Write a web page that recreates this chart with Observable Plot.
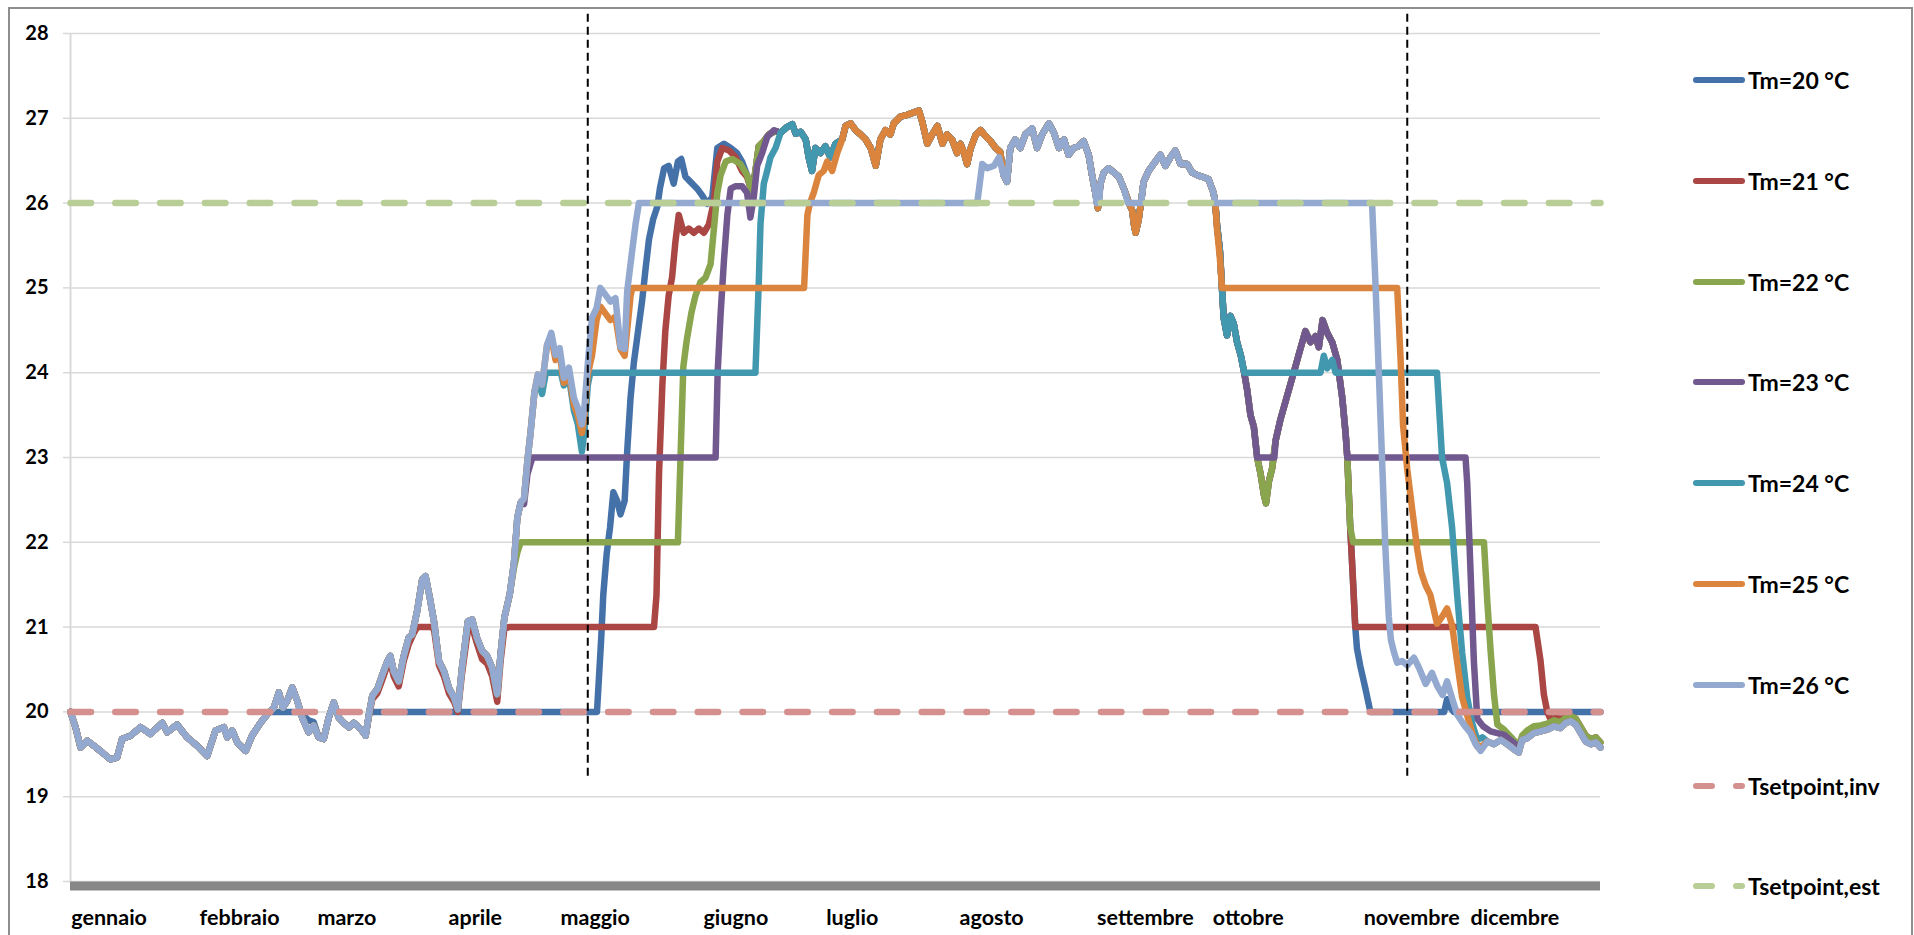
<!DOCTYPE html>
<html><head><meta charset="utf-8">
<script src="https://cdn.jsdelivr.net/npm/d3@7"></script>
<script src="https://cdn.jsdelivr.net/npm/@observablehq/plot@0.6"></script>
<style>
html,body{margin:0;padding:0;background:#fff;overflow:hidden;}
#wrap{position:relative;width:1914px;height:935px;overflow:hidden;font-family:Lato,"Open Sans",sans-serif;}
#frame{position:absolute;left:8px;top:7px;width:1905px;height:980px;border:2px solid #8e8e8e;box-sizing:border-box;}
#chart{position:absolute;left:0;top:0;}
#chart svg text{font-weight:700;}
.lg{position:absolute;left:1690px;height:30px;display:flex;align-items:center;font-weight:700;font-size:23px;color:#000;white-space:nowrap;font-family:Lato,"Open Sans",sans-serif;}
.lg svg{display:block;flex:none;}
</style></head>
<body>
<div id="wrap"><div id="frame"></div><div id="chart"></div><div id="legend"></div></div>
<script>
// ---------- axis data ----------
const yTicks = [18,19,20,21,22,23,24,25,26,27,28];
const monthNames = ["gennaio","febbraio","marzo","aprile","maggio","giugno","luglio","agosto","settembre","ottobre","novembre","dicembre"];
const monthDays = [0.2,30.8,58.9,90.2,116.9,151.0,180.3,212.1,244.9,272.5,308.5,334.0];
const switchDays = [123.4, 318.9];

// ---------- shared segments [day, °C] ----------
const Wa = [[0,20.0],[1.2,19.82],[2.4,19.58],[4.0,19.66],[5.6,19.6],[7.6,19.52],[9.5,19.44],[11.1,19.46],[12.3,19.68],[14.3,19.72],[16.7,19.82],[19.1,19.74],[21.9,19.87],[23.1,19.76],[25.4,19.85],[27.8,19.7],[30.2,19.6],[32.6,19.48],[34.6,19.78],[36.6,19.82],[37.4,19.7],[38.6,19.78],[39.8,19.64],[41.8,19.54],[43.3,19.72],[45.3,19.87]];
const Wb = [[46.9,19.97],[48.5,20.05],[49.7,20.23],[50.7,20.05],[51.7,20.13],[52.9,20.29],[54.1,20.13],[55.3,19.93],[56.8,19.76],[58.0,19.84]];
const Wc = [[59.2,19.7],[60.4,19.68],[61.6,19.93],[62.8,20.11],[64.0,19.93],[65.2,19.87],[66.4,19.82],[67.6,19.87],[69.2,19.8],[70.4,19.72]];
const B1 = [[71.2,19.97],[72.0,20.19],[73.2,20.27],[74.4,20.44],[75.6,20.6],[76.3,20.66],[77.1,20.48],[78.3,20.36],[79.5,20.66],[80.7,20.88],[81.5,20.91],[82.7,21.19],[83.9,21.56],[84.7,21.6],[85.7,21.35],[86.7,21.07],[87.9,20.6],[89.1,20.48],[90.3,20.28],[91.5,20.17],[92.4,20.03],[93.4,20.52],[94.8,21.07],[95.8,21.09],[97.0,20.87],[98.2,20.72],[99.4,20.66],[100.6,20.52],[101.8,20.21],[102.6,20.68],[103.5,21.11],[104.8,21.39]];
const B2 = [[105.8,21.76],[106.6,22.29],[107.4,22.47]];
const B3 = [[108.2,22.52],[109.0,22.96],[109.7,23.27],[110.7,23.78]];
const B4 = [[111.5,23.98],[112.5,23.86],[113.7,24.33]];
const B5 = [[114.7,24.47],[115.7,24.21],[116.7,24.29],[117.7,23.94],[118.9,24.06],[120.1,23.7],[121.0,23.59],[122.0,23.39],[122.6,23.59],[123.4,24.1],[124.4,24.65],[125.5,24.76],[126.4,25.0],[127.6,24.92],[128.8,24.84],[130.0,24.88],[131.2,24.3],[132.2,24.28],[132.8,24.96],[134.0,25.44],[134.8,25.75],[135.6,26.0]];
const Sa = [[169.4,26.83],[171.0,26.9],[172.2,26.93],[173.0,26.82],[174.2,26.84],[175.4,26.75],[176.1,26.54],[176.9,26.38],[177.7,26.65],[178.9,26.59],[180.1,26.67],[181.3,26.54],[182.5,26.7]];
const Sb = [[184.1,26.75],[184.9,26.91],[186.1,26.94],[187.3,26.86],[188.5,26.81],[189.7,26.75],[190.9,26.65],[192.1,26.44],[193.2,26.75],[194.4,26.86],[195.6,26.81],[196.4,26.94],[198.0,27.02],[199.6,27.04],[201.2,27.07],[202.4,27.09],[203.2,26.96],[204.4,26.7],[205.6,26.81],[206.8,26.91],[208.0,26.7],[209.1,26.81],[210.3,26.75],[211.5,26.59],[212.3,26.7],[213.1,26.6],[213.9,26.46],[214.7,26.64],[215.9,26.8],[217.1,26.86],[218.3,26.79],[219.5,26.73],[220.7,26.65],[221.8,26.6],[222.6,26.33]];
const Sc1 = [[223.4,26.25],[224.2,26.65],[225.4,26.75],[226.6,26.65],[227.8,26.81],[229.4,26.88],[230.6,26.65],[231.8,26.81],[233.4,26.94],[234.6,26.83],[235.8,26.65],[237.0,26.75],[238.1,26.57],[239.3,26.65],[240.5,26.67],[241.7,26.73],[242.9,26.57],[243.7,26.33],[244.5,26.12]];
const dip1 = [[245.1,25.94]];
const Sc2 = [[245.7,26.23],[246.5,26.36],[247.7,26.41],[248.9,26.36],[250.1,26.31],[251.3,26.17]];
const dip2 = [[252.5,26.0],[253.3,25.91],[253.7,25.75],[254.1,25.65],[254.8,25.8],[255.5,26.05]];
const Sc3 = [[256.0,26.25],[257.2,26.38],[258.8,26.49],[260.0,26.57],[261.2,26.44],[262.4,26.54],[263.6,26.62],[264.8,26.46],[266.4,26.46],[267.6,26.36],[268.8,26.33],[270.0,26.31],[271.5,26.28],[272.7,26.12],[273.1,26.0]];
const autumnA = [[273.5,25.75],[274.2,25.44],[274.7,25.0],[275.1,24.65],[275.9,24.44],[276.7,24.67],[277.5,24.58],[278.3,24.36],[279.2,24.2],[280.0,24.0]];
const autumnB = [[280.7,23.8],[281.5,23.5],[282.3,23.36],[283.1,23.0]];
const dipGreen = [[283.9,22.81],[284.7,22.56],[285.2,22.46],[285.9,22.72],[286.7,22.88]];
const autumnC = [[287.5,23.2],[288.6,23.44],[289.8,23.65],[291.0,23.86],[292.2,24.07],[293.4,24.28],[294.6,24.49],[295.8,24.36],[297.0,24.43],[297.8,24.3],[298.7,24.62],[299.8,24.47],[301.0,24.36],[302.2,24.15],[303.4,23.7],[304.2,23.28],[304.6,23.0]];
const endCommonA = [[338.0,19.65],[339.6,19.62],[341.2,19.67],[342.7,19.62],[344.3,19.56],[345.5,19.52]];
const endCommonB = [[346.3,19.67],[347.5,19.69],[349.1,19.75],[350.7,19.77],[352.3,19.79],[353.9,19.83],[355.5,19.81],[356.7,19.87],[357.9,19.89],[359.1,19.85],[360.3,19.75],[361.5,19.65],[362.7,19.62],[363.9,19.64],[365.0,19.58]];
const endUpper1 = [[346.3,19.72],[347.5,19.78],[349.1,19.83],[350.7,19.84],[352.3,19.86],[353.9,19.9],[355.5,19.88],[356.7,19.93],[357.9,19.95]];
const endUpper2 = [[359.1,19.92],[360.3,19.82],[361.5,19.72],[362.7,19.68],[363.9,19.7],[365.0,19.64]];

// ---------- series-specific segments ----------
const t20Winter = [[46.9,19.97],[47.5,20.0],[54.5,20.0],[55.3,19.97],[56.8,19.9],[58.0,19.88]];
const t20Spring = [[71.2,19.97],[71.6,20.0],[125.6,20.0]];
const t20Rise = [[126.6,20.86],[127.1,21.38],[127.9,21.86],[128.7,22.17],[129.5,22.59],[130.4,22.49],[131.2,22.33],[132.2,22.49],[132.8,23.07],[133.6,23.7],[134.4,24.12],[135.4,24.49],[136.4,24.86],[137.2,25.23],[138.0,25.57],[139.0,25.81],[140.0,25.96],[140.6,26.17],[141.6,26.41],[142.7,26.44],[143.9,26.23],[144.9,26.49],[145.7,26.52],[146.7,26.31],[147.9,26.25],[149.5,26.17],[150.7,26.09],[151.9,25.99],[153.1,26.07],[154.3,26.65],[155.9,26.7],[157.5,26.65],[159.0,26.59],[160.2,26.49],[161.4,26.33],[162.6,26.12],[163.4,26.38],[164.2,26.67],[165.4,26.73],[166.6,26.81],[168.2,26.85]];
const t20Autumn = [[305.3,22.17],[305.8,21.7],[306.2,21.3],[306.5,21.0],[306.9,20.75],[307.7,20.54],[308.9,20.28],[310.1,20.0],[327.7,20.0],[328.4,20.15],[329.2,20.05],[330.0,20.0],[365.0,20.0]];

const t21Spring = [[71.2,19.95],[72.0,20.15],[73.2,20.22],[74.4,20.38],[75.6,20.55],[76.3,20.58],[77.1,20.42],[78.3,20.3],[79.5,20.6],[80.7,20.8],[81.9,20.93],[82.7,21.0],[85.9,21.0],[86.7,20.98],[87.9,20.55],[89.1,20.42],[90.3,20.22],[91.5,20.12],[92.4,20.0],[93.4,20.45],[94.8,20.96],[95.8,21.0],[97.0,20.8],[98.2,20.62],[99.4,20.57],[100.6,20.42],[101.8,20.12],[102.6,20.6],[103.5,20.98],[104.6,21.0],[139.2,21.0]];
const t21Rise = [[139.8,21.38],[140.4,22.81],[141.2,23.86],[141.9,24.49],[142.7,24.91],[143.5,25.12],[144.3,25.54],[145.1,25.86],[146.3,25.65],[147.5,25.7],[148.7,25.65],[149.9,25.7],[151.1,25.65],[152.3,25.75],[153.5,26.02],[154.3,26.49],[155.5,26.65],[157.1,26.62],[158.7,26.54],[160.2,26.38],[161.4,26.31],[162.6,26.12],[163.4,26.38],[164.2,26.67],[165.4,26.73],[166.6,26.81],[168.2,26.85]];
const t21Autumn = [[305.3,22.17],[305.8,21.7],[306.2,21.3],[306.5,21.0],[349.5,21.0],[350.7,20.6],[351.5,20.2],[352.3,20.0],[353.1,19.91],[354.3,19.93],[355.5,19.92],[356.7,19.93],[357.9,19.95]];

const t22Spring = [[105.8,21.7],[106.6,21.88],[107.4,22.0],[144.9,22.0]];
const t22Rise = [[145.5,22.96],[146.2,24.07],[147.0,24.38],[148.1,24.7],[149.1,24.91],[150.3,25.07],[151.5,25.12],[152.7,25.28],[153.5,25.7],[154.3,26.12],[155.1,26.33],[156.3,26.49],[157.9,26.52],[159.8,26.46],[161.4,26.33],[162.6,26.12],[163.4,26.38],[164.2,26.67],[165.4,26.73],[166.6,26.81],[168.2,26.85]];
const t22Autumn = [[305.3,22.17],[306.0,22.0],[337.2,22.0],[338.0,21.3],[338.8,20.71],[339.6,20.2],[340.4,19.85],[342.0,19.79],[343.9,19.69],[345.5,19.6]];

const t23Spring = [[108.2,22.45],[109.0,22.8],[109.7,22.92],[110.2,23.0],[153.9,23.0]];
const t23Rise = [[154.4,24.02],[155.1,24.7],[155.9,25.33],[156.7,25.86],[157.5,26.17],[158.7,26.2],[160.2,26.2],[161.4,26.12],[162.2,25.83],[163.0,26.07],[163.8,26.44],[165.0,26.59],[166.2,26.78],[167.8,26.86]];
const t23Hold = [[287.2,23.0]];
const t23Autumn = [[332.8,23.0],[333.2,22.7],[334.0,21.65],[334.8,20.59],[335.6,19.92],[337.0,19.83],[338.8,19.77],[340.4,19.75],[342.0,19.73],[343.9,19.65],[345.5,19.58]];

const t24Spring = [[111.5,23.9],[112.5,23.75],[113.4,24.0],[117.0,24.0],[117.7,23.85],[118.9,23.95],[120.1,23.55],[121.0,23.4],[122.0,23.07],[122.6,23.3],[123.4,23.85],[124.0,24.0],[163.4,24.0]];
const t24Rise = [[164.2,25.07],[164.6,25.75],[165.4,26.23],[166.2,26.38],[167.0,26.54],[168.2,26.65]];
const t24Autumn = [[298.2,24.0],[299.0,24.2],[299.8,24.05],[301.0,24.15],[301.8,24.0],[326.0,24.0],[327.2,23.0],[328.4,22.7],[329.6,22.17],[330.8,21.38],[332.0,20.7],[333.2,20.17],[334.4,19.86],[335.6,19.67],[336.8,19.7]];

const t25Spring = [[114.7,24.42],[115.7,24.15],[116.7,24.22],[117.7,23.88],[118.9,24.0],[120.1,23.62],[121.0,23.5],[122.0,23.29],[122.6,23.48],[123.4,23.98],[124.4,24.2],[125.5,24.62],[126.4,24.78],[127.6,24.7],[128.8,24.62],[130.0,24.66],[131.2,24.28],[132.2,24.2],[132.8,24.5],[133.6,24.9],[134.0,25.0],[175.0,25.0]];
const t25Rise = [[175.8,25.86],[176.4,26.0],[177.3,26.12],[178.5,26.33],[179.7,26.38],[180.5,26.49],[181.7,26.38],[182.9,26.59]];
const t25Autumn = [[273.5,25.7],[274.2,25.35],[274.7,25.0],[316.5,25.0],[317.3,24.17],[317.9,23.38],[318.9,22.86],[320.1,22.38],[321.3,21.91],[322.2,21.65],[323.3,21.49],[324.4,21.38],[326.0,21.04],[327.2,21.12],[328.4,21.22],[329.6,21.02],[330.8,20.59],[332.0,20.17],[333.2,19.96],[334.4,19.75],[335.6,19.59],[336.8,19.6]];

const t26Rise = [[216.3,26.0],[216.7,26.15],[217.5,26.46],[218.7,26.41],[220.3,26.44],[221.5,26.54],[222.6,26.33]];
const t26Dip1 = [[244.8,26.0],[245.4,26.0]];
const t26Dip2 = [[252.3,26.0],[255.4,26.0]];
const t26Drop = [[310.5,26.0],[311.3,25.07],[312.1,24.02],[312.9,22.96],[313.7,21.91],[314.5,21.12],[315.0,20.85],[315.7,20.71],[316.5,20.58],[317.7,20.6],[318.9,20.55],[320.5,20.64],[321.7,20.52],[323.3,20.33],[324.8,20.46],[326.1,20.3],[327.3,20.2],[328.4,20.36],[329.6,20.16],[330.8,19.97],[332.4,19.85],[334.0,19.75],[335.2,19.62],[336.4,19.54]];

const setpointInv = [[0,20],[365,20]];
const setpointEst = [[0,26],[365,26]];

// ---------- series assembly ----------
const summerCommon = [...Sa, ...Sb, ...Sc1, ...dip1, ...Sc2, ...dip2, ...Sc3];
const series = [
  {name:"Tm=20 °C", color:"#4571a9", data:[...Wa,...t20Winter,...Wc,...t20Spring,...t20Rise,...summerCommon,...autumnA,...autumnB,...dipGreen,...autumnC,...t20Autumn]},
  {name:"Tm=21 °C", color:"#aa4643", data:[...Wa,...Wb,...Wc,...t21Spring,...t21Rise,...summerCommon,...autumnA,...autumnB,...dipGreen,...autumnC,...t21Autumn,...endUpper2]},
  {name:"Tm=22 °C", color:"#89a54e", data:[...Wa,...Wb,...Wc,...B1,...t22Spring,...t22Rise,...summerCommon,...autumnA,...autumnB,...dipGreen,...autumnC,...t22Autumn,...endUpper1,...endUpper2]},
  {name:"Tm=23 °C", color:"#71588f", data:[...Wa,...Wb,...Wc,...B1,...B2,...t23Spring,...t23Rise,...summerCommon,...autumnA,...autumnB,...t23Hold,...autumnC,...t23Autumn,...endCommonB]},
  {name:"Tm=24 °C", color:"#4198af", data:[...Wa,...Wb,...Wc,...B1,...B2,...B3,...t24Spring,...t24Rise,...summerCommon,...autumnA,...t24Autumn,...endCommonA,...endCommonB]},
  {name:"Tm=25 °C", color:"#db843d", data:[...Wa,...Wb,...Wc,...B1,...B2,...B3,...B4,...t25Spring,...t25Rise,...Sb,...Sc1,...dip1,...Sc2,...dip2,...Sc3,...t25Autumn,...endCommonA,...endCommonB]},
  {name:"Tm=26 °C", color:"#93a9cf", data:[...Wa,...Wb,...Wc,...B1,...B2,...B3,...B4,...B5,...t26Rise,...Sc1,...t26Dip1,...Sc2,...t26Dip2,...Sc3,...t26Drop,...endCommonA,...endCommonB]}
];
const setpoints = [
  {name:"Tsetpoint,inv", color:"#d4908f", data:setpointInv},
  {name:"Tsetpoint,est", color:"#b9cd96", data:setpointEst}
];

// ---------- chart ----------
const marks = [];
marks.push(Plot.ruleY(yTicks, {stroke:"#d9d9d9", strokeWidth:1.5}));
if (Plot.axisY) {
  marks.push(Plot.axisY(yTicks, {anchor:"left", tickSize:7, tickPadding:15, stroke:"#d9d9d9", strokeWidth:1.5, fill:"#000", fontSize:20, fontWeight:"bold", tickFormat:d=>String(d), label:null}));
}
marks.push(Plot.ruleX([0], {stroke:"#d9d9d9", strokeWidth:2}));
for (const s of series) {
  marks.push(Plot.line(s.data, {stroke:s.color, strokeWidth:6.5, strokeLinejoin:"round", strokeLinecap:"round"}));
}
for (const s of setpoints) {
  marks.push(Plot.line(s.data, {stroke:s.color, strokeWidth:6.5, strokeDasharray:"20.5,24.3", strokeLinecap:"round"}));
}
marks.push(Plot.ruleX(switchDays, {y1:19.24, y2:28.27, stroke:"#000", strokeWidth:2, strokeDasharray:"8,5"}));
marks.push(Plot.ruleY([18], {stroke:"#878787", strokeWidth:9, dy:4.5}));
marks.push(Plot.text(monthNames, {x:(d,i)=>monthDays[i], y:()=>18, dy:37, text:d=>d, textAnchor:"start", fontSize:21.5, fontWeight:"bold", fill:"#000"}));

const chart = Plot.plot({
  width:1640, height:935,
  marginLeft:70, marginRight:40, marginTop:33, marginBottom:54,
  style:{fontFamily:"Lato, 'Open Sans', sans-serif", background:"transparent", color:"#000", overflow:"visible"},
  x:{domain:[0,365], axis:null},
  y:{domain:[18,28], axis:null},
  marks
});
document.getElementById("chart").appendChild(chart);

// ---------- legend ----------
const legend = document.getElementById("legend");
const items = [...series.map(s=>({...s, dashed:false})), ...setpoints.map(s=>({...s, dashed:true}))];
items.forEach((it, i) => {
  const row = document.createElement("div");
  row.className = "lg";
  row.style.top = (80 + i*100.8 - 15) + "px";
  const dash = it.dashed ? ' stroke-dasharray="16,24"' : '';
  row.innerHTML = `<svg width="58" height="12"><line x1="6" y1="6" x2="52" y2="6" stroke="${it.color}" stroke-width="6" stroke-linecap="round"${dash}/></svg><span>${it.name}</span>`;
  legend.appendChild(row);
});
</script>
</body></html>
